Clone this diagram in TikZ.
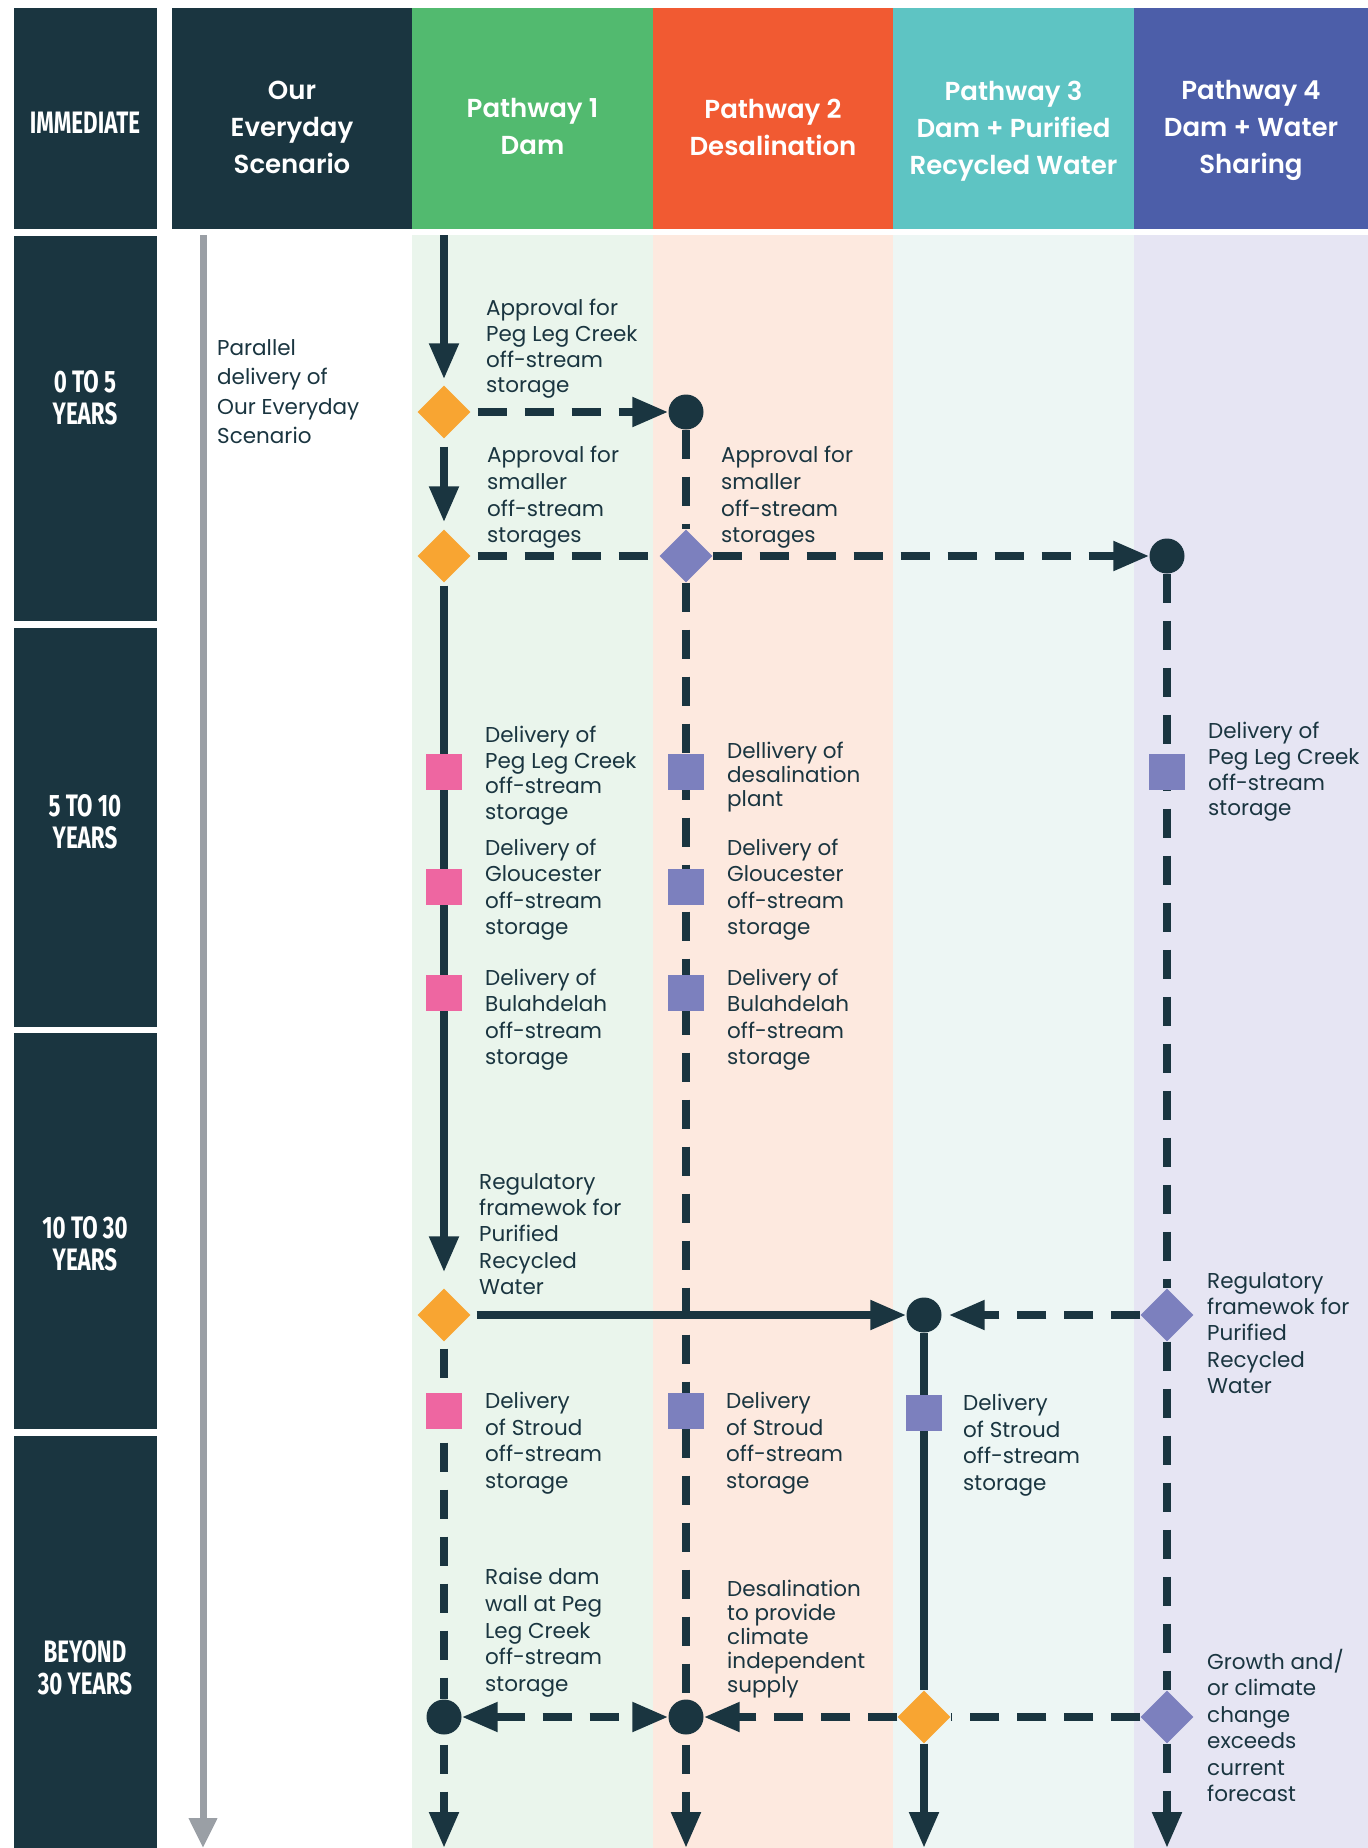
\documentclass[tikz,border=0pt]{standalone}
\usepackage{fontspec}
\setmainfont{Poppins}
\newfontfamily\headfont{Poppins SemiBold}
\newfontfamily\yearfont[FakeStretch=0.72]{Fira Sans}
\usetikzlibrary{arrows.meta,shapes.geometric}

\definecolor{navy}{HTML}{1A3540}
\definecolor{hgreen}{HTML}{52BA6F}
\definecolor{hred}{HTML}{F15A32}
\definecolor{hteal}{HTML}{5EC4C3}
\definecolor{hblue}{HTML}{4C5EA9}
\definecolor{bgreen}{HTML}{EAF5EC}
\definecolor{borange}{HTML}{FDE9DF}
\definecolor{bteal}{HTML}{EDF6F4}
\definecolor{bpurple}{HTML}{E6E5F3}
\definecolor{dorange}{HTML}{F8A532}
\definecolor{mpink}{HTML}{EE66A1}
\definecolor{mpurple}{HTML}{7C80BE}
\definecolor{axisgray}{HTML}{9A9FA5}

\pgfdeclarelayer{bg}
\pgfdeclarelayer{lines}
\pgfsetlayers{bg,lines,main}

\tikzset{
  flow/.style={line width=8pt, draw=navy},
  dashflow/.style={flow, dash pattern=on 29pt off 18pt},
  tip/.style={-{Triangle[length=36pt,width=28pt]}},
  twotips/.style={{Triangle[length=36pt,width=28pt]}-{Triangle[length=36pt,width=28pt]}},
  diam/.style={diamond, draw=none, inner sep=0pt, minimum width=53pt, minimum height=53pt},
  dot/.style={circle, fill=navy, inner sep=0pt, minimum size=35pt},
  sq/.style={rectangle, inner sep=0pt, minimum size=36pt},
  lbl/.style={anchor=north west, align=left, inner sep=0pt, text=navy,
    font=\fontsize{21.5}{26.5}\selectfont, execute at begin node=\rule{0pt}{18pt}},
  hdr/.style={anchor=north, align=center, inner sep=0pt, text=white,
    font=\headfont\fontsize{26}{37}\selectfont, execute at begin node=\rule{0pt}{22pt}},
  yr/.style={anchor=north, align=center, inner sep=0pt, text=white,
    font=\yearfont\bfseries\fontsize{31}{32}\selectfont, execute at begin node=\rule{0pt}{26pt}},
}

\begin{document}
\begin{tikzpicture}[x=1pt, y=-1pt]
\useasboundingbox (0,0) rectangle (1368,1848);

% ---- panels ----
\begin{pgfonlayer}{bg}
  \fill[white] (0,0) rectangle (1368,1848);
  % time scale column
  \fill[navy] (14,8) rectangle (157,229);
  \fill[navy] (14,236) rectangle (157,621);
  \fill[navy] (14,628) rectangle (157,1027);
  \fill[navy] (14,1033) rectangle (157,1429);
  \fill[navy] (14,1436) rectangle (157,1848);
  % column headings
  \fill[navy]    (172,8) rectangle (412,229);
  \fill[hgreen]  (412,8) rectangle (653,229);
  \fill[hred]    (653,8) rectangle (893,229);
  \fill[hteal]   (893,8) rectangle (1134,229);
  \fill[hblue]   (1134,8) rectangle (1368,229);
  % column bodies
  \fill[bgreen]  (412,235) rectangle (653,1848);
  \fill[borange] (653,235) rectangle (893,1848);
  \fill[bteal]   (893,235) rectangle (1134,1848);
  \fill[bpurple] (1134,235) rectangle (1368,1848);
\end{pgfonlayer}

% ---- headings ----
\node[yr] (y0) at (85,107) {IMMEDIATE};
\node[yr] (y1) at (85,370) {0 TO 5\\YEARS};
\node[yr] (y2) at (85,794) {5 TO 10\\YEARS};
\node[yr] (y3) at (85,1216) {10 TO 30\\YEARS};
\node[yr] (y4) at (85,1640) {BEYOND\\30 YEARS};

\node[hdr] (h0) at (292,80.5) {Our\\Everyday\\Scenario};
\node[hdr] (h1) at (532.5,98.5) {Pathway 1\\Dam};
\node[hdr] (h2) at (773,98.5) {Pathway 2\\Desalination};
\node[hdr] (h3) at (1013.5,80.5) {Pathway 3\\Dam + Purified\\Recycled Water};
\node[hdr] (h4) at (1251,80.5) {Pathway 4\\Dam + Water\\Sharing};

% ---- markers ----
\node[diam, fill=dorange] (a1) at (444,412) {};
\node[dot] (b1) at (686,412) {};
\node[diam, fill=dorange] (a2) at (444,556) {};
\node[diam, fill=mpurple] (b2) at (686,556) {};
\node[dot] (d2) at (1167,556) {};

\node[sq, fill=mpink] (a5) at (444,772) {};
\node[sq, fill=mpink] (a6) at (444,887) {};
\node[sq, fill=mpink] (a7) at (444,993) {};
\node[sq, fill=mpurple] (b5) at (686,772) {};
\node[sq, fill=mpurple] (b6) at (686,887) {};
\node[sq, fill=mpurple] (b7) at (686,993) {};
\node[sq, fill=mpurple] (d5) at (1167,772) {};

\node[diam, fill=dorange] (a3) at (444,1315) {};
\node[dot] (c3) at (924,1315) {};
\node[diam, fill=mpurple] (d3) at (1167,1315) {};

\node[sq, fill=mpink] (a8) at (444,1411) {};
\node[sq, fill=mpurple] (b8) at (686,1411) {};
\node[sq, fill=mpurple] (c8) at (924,1413) {};

\node[dot] (a4) at (444,1717) {};
\node[dot] (b4) at (686,1717) {};
\node[diam, fill=dorange] (c4) at (924,1717) {};
\node[diam, fill=mpurple] (d4) at (1167,1717) {};

\coordinate (g0) at (203,235);
\coordinate (g9) at (203,1848);
\coordinate (a0) at (444,235);
\coordinate (a9) at (444,1848);
\coordinate (b9) at (686,1848);
\coordinate (c9) at (924,1848);
\coordinate (d9) at (1167,1848);

% ---- connectors ----
\begin{pgfonlayer}{lines}
  \draw[line width=7pt, draw=axisgray, -{Triangle[length=30pt,width=27pt]}] (g0) -- (g9);

  \draw[flow, tip, shorten >=6pt] (a0) -- (a1);
  \draw[dashflow, tip, shorten <=7pt] (a1) -- (b1);
  \draw[flow, tip, shorten <=8pt, shorten >=7pt] (a1) -- (a2);
  \draw[dashflow] (b1) -- (b2);
  \draw[dashflow, tip, shorten <=7pt] (a2) -- (d2);
  \draw[flow, tip, shorten <=3pt, shorten >=16pt] (a2) -- (a3);
  \draw[dashflow] (b2) -- (b4);
  \draw[dashflow] (d2) -- (d3);

  \draw[flow, tip, shorten <=6pt] (a3) -- (c3);
  \draw[dashflow, tip, shorten >=7pt] (d3) -- (c3);
  \draw[flow] (c3) -- (c4);
  \draw[flow, tip] (c4) -- (c9);
  \draw[dashflow, shorten <=7pt] (a3) -- (a4);
  \draw[dashflow, tip, shorten <=10pt] (a4) -- (a9);
  \draw[dashflow, tip, shorten <=10pt] (b4) -- (b9);
  \draw[dashflow] (d3) -- (d4);
  \draw[dashflow, tip] (d4) -- (d9);

  \draw[dashflow, twotips] (a4) -- (b4);
  \draw[dashflow, tip] (c4) -- (b4);
  \draw[dashflow] (d4) -- (c4);
\end{pgfonlayer}

% ---- labels ----
\node[lbl, font=\fontsize{21.5}{29.5}\selectfont] (t0) at (217,339)
  {Parallel\\delivery of\\Our Everyday\\Scenario};
\node[lbl, font=\fontsize{21.5}{25.7}\selectfont] (t1) at (486,299)
  {Approval for\\Peg Leg Creek\\off-stream\\storage};
\node[lbl, font=\fontsize{21.5}{26.7}\selectfont] (t2) at (487,446)
  {Approval for\\smaller\\off-stream\\storages};
\node[lbl, font=\fontsize{21.5}{26.7}\selectfont] (t3) at (721,446)
  {Approval for\\smaller\\off-stream\\storages};
\node[lbl, font=\fontsize{21.5}{25.5}\selectfont] (t4) at (485,726)
  {Delivery of\\Peg Leg Creek\\off-stream\\storage};
\node[lbl, font=\fontsize{21.5}{24}\selectfont] (t5) at (727,742)
  {Dellivery of\\desalination\\plant};
\node[lbl, font=\fontsize{21.5}{26.3}\selectfont] (t6) at (485,839)
  {Delivery of\\Gloucester\\off-stream\\storage};
\node[lbl, font=\fontsize{21.5}{26.3}\selectfont] (t7) at (727,839)
  {Delivery of\\Gloucester\\off-stream\\storage};
\node[lbl, font=\fontsize{21.5}{26.3}\selectfont] (t8) at (485,969)
  {Delivery of\\Bulahdelah\\off-stream\\storage};
\node[lbl, font=\fontsize{21.5}{26.3}\selectfont] (t9) at (727,969)
  {Delivery of\\Bulahdelah\\off-stream\\storage};
\node[lbl, font=\fontsize{21.5}{25.7}\selectfont] (t10) at (1208,722)
  {Delivery of\\Peg Leg Creek\\off-stream\\storage};
\node[lbl, font=\fontsize{21.5}{26.3}\selectfont] (t11) at (479,1173)
  {Regulatory\\framewok for\\Purified\\Recycled\\Water};
\node[lbl, font=\fontsize{21.5}{26.3}\selectfont] (t12) at (1207,1272)
  {Regulatory\\framewok for\\Purified\\Recycled\\Water};
\node[lbl] (t13) at (485,1392) {Delivery\\of Stroud\\off-stream\\storage};
\node[lbl] (t14) at (726,1392) {Delivery\\of Stroud\\off-stream\\storage};
\node[lbl] (t15) at (963,1394) {Delivery\\of Stroud\\off-stream\\storage};
\node[lbl, font=\fontsize{21.5}{26.8}\selectfont] (t16) at (485,1568)
  {Raise dam\\wall at Peg\\Leg Creek\\off-stream\\storage};
\node[lbl, font=\fontsize{21.5}{24}\selectfont] (t17) at (727,1580)
  {Desalination\\to provide\\climate\\independent\\supply};
\node[lbl, font=\fontsize{21.5}{26.4}\selectfont] (t18) at (1207,1649)
  {Growth and/\\or climate\\change\\exceeds\\current\\forecast};
\end{tikzpicture}
\end{document}
